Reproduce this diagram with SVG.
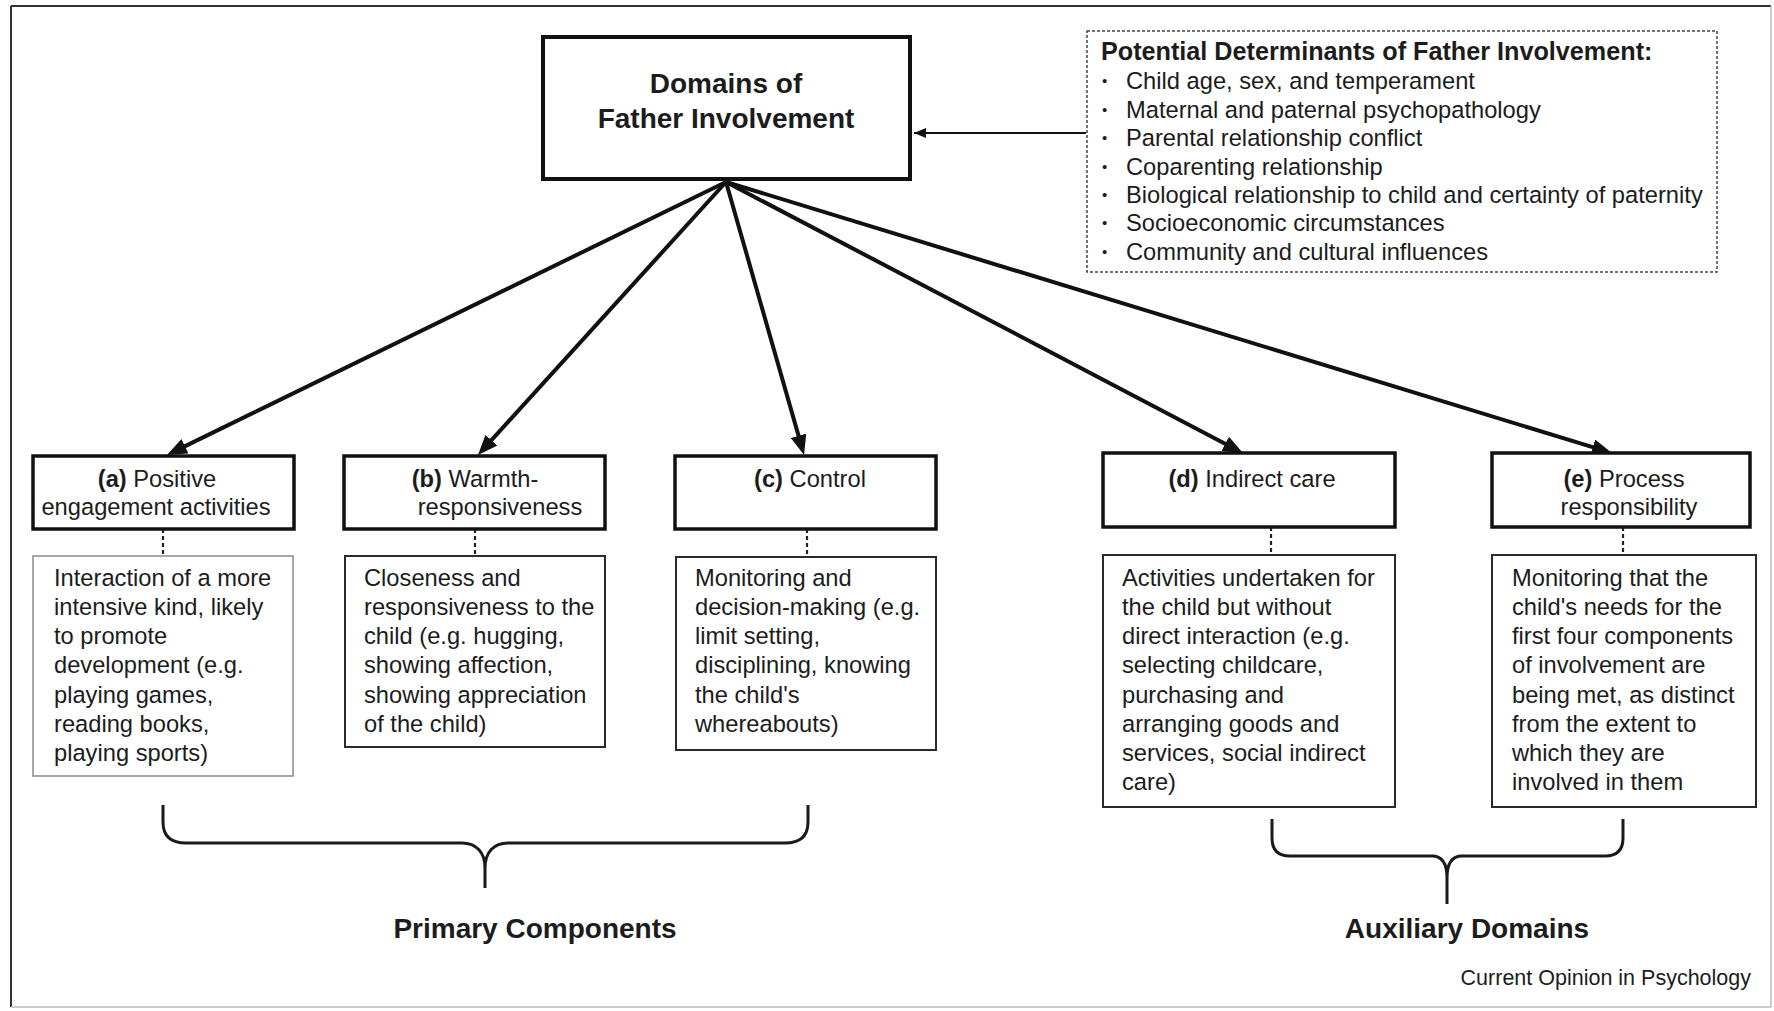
<svg xmlns="http://www.w3.org/2000/svg" width="1774" height="1011" viewBox="0 0 1774 1011">
<defs>
<style>
text{font-family:"Liberation Sans",Arial,Helvetica,sans-serif;fill:#1c1c1c;}
.t24{font-size:23.7px;}
.b{font-weight:bold;}
.title{font-size:28px;font-weight:bold;}
.hdr{fill:#fff;stroke:#111;stroke-width:3.5;}
.desc{fill:#fff;stroke:#2a2a2a;stroke-width:2;}
.descl{fill:#fff;stroke:#8a8a8a;stroke-width:1.5;}
.dash{stroke:#222;stroke-width:2.2;stroke-dasharray:4 3;fill:none;}
.arrow{stroke:#111;stroke-width:4;fill:none;marker-end:url(#ah);}
.brace{stroke:#1a1a1a;stroke-width:3;fill:none;stroke-linejoin:round;}
.bul{font-size:15px;}
</style>
<marker id="ah" viewBox="0 0 20 16" refX="10" refY="8" markerWidth="20" markerHeight="16" markerUnits="userSpaceOnUse" orient="auto">
<path d="M0,0 L20,8 L0,16 z" fill="#111"/>
</marker>
<marker id="ahs" viewBox="0 0 12 10" refX="12" refY="5" markerWidth="12" markerHeight="10" markerUnits="userSpaceOnUse" orient="auto">
<path d="M0,0 L12,5 L0,10 z" fill="#111"/>
</marker>
</defs>
<rect x="0" y="0" width="1774" height="1011" fill="#fff"/>
<g id="frame">
<line x1="11" y1="6" x2="1771" y2="6" stroke="#333" stroke-width="2"/>
<line x1="11" y1="6" x2="11" y2="1007" stroke="#333" stroke-width="2"/>
<line x1="1771" y1="6" x2="1771" y2="1007" stroke="#bbb" stroke-width="1.5"/>
<line x1="11" y1="1007" x2="1771" y2="1007" stroke="#bbb" stroke-width="1.5"/>
</g>

<g id="connectors">
<line class="arrow" x1="726" y1="182" x2="176.0" y2="450.6"/>
<line class="arrow" x1="726" y1="182" x2="484.7" y2="447.6"/>
<line class="arrow" x1="726" y1="182" x2="801.3" y2="445.4"/>
<line class="arrow" x1="726" y1="182" x2="1234.1" y2="448.4"/>
<line class="arrow" x1="726" y1="182" x2="1602.4" y2="450.1"/>
<line x1="1086" y1="133" x2="914" y2="133" stroke="#111" stroke-width="2" marker-end="url(#ahs)"/>
<line class="dash" x1="163" y1="529" x2="163" y2="555"/>
<line class="dash" x1="475" y1="529" x2="475" y2="555"/>
<line class="dash" x1="807" y1="529" x2="807" y2="557"/>
<line class="dash" x1="1271" y1="527" x2="1271" y2="555"/>
<line class="dash" x1="1623" y1="527" x2="1623" y2="555"/>
</g>

<g id="main">
<rect x="543" y="37" width="367" height="142" fill="#fff" stroke="#111" stroke-width="4"/>
<text class="title" x="726" y="93" text-anchor="middle">Domains of</text>
<text class="title" x="726" y="128" text-anchor="middle">Father Involvement</text>
</g>

<g id="determinants">
<rect x="1087" y="31" width="630" height="241" fill="#fff" stroke="#444" stroke-width="1.5" stroke-dasharray="3 2"/>
<text class="b" x="1101" y="60" font-size="25.2">Potential Determinants of Father Involvement:</text>
<g class="bul">
<text x="1102" y="86">•</text>
<text x="1102" y="115">•</text>
<text x="1102" y="143">•</text>
<text x="1102" y="172">•</text>
<text x="1102" y="200">•</text>
<text x="1102" y="228">•</text>
<text x="1102" y="257">•</text>
</g>
<g class="t24">
<text x="1126" y="89">Child age, sex, and temperament</text>
<text x="1126" y="118">Maternal and paternal psychopathology</text>
<text x="1126" y="146">Parental relationship conflict</text>
<text x="1126" y="175">Coparenting relationship</text>
<text x="1126" y="203">Biological relationship to child and certainty of paternity</text>
<text x="1126" y="231">Socioeconomic circumstances</text>
<text x="1126" y="260">Community and cultural influences</text>
</g>
</g>

<g id="node-a">
<rect class="hdr" x="33" y="456" width="261" height="73"/>
<text class="t24" x="157" y="487" text-anchor="middle"><tspan class="b">(a)</tspan> Positive</text>
<text class="t24" x="156" y="515" text-anchor="middle">engagement activities</text>
<rect class="descl" x="33" y="556" width="260" height="220"/>
<g class="t24">
<text x="54" y="586">Interaction of a more</text>
<text x="54" y="615">intensive kind, likely</text>
<text x="54" y="644">to promote</text>
<text x="54" y="673">development (e.g.</text>
<text x="54" y="703">playing games,</text>
<text x="54" y="732">reading books,</text>
<text x="54" y="761">playing sports)</text>
</g>
</g>

<g id="node-b">
<rect class="hdr" x="344" y="456" width="261" height="73"/>
<text class="t24" x="475" y="487" text-anchor="middle"><tspan class="b">(b)</tspan> Warmth-</text>
<text class="t24" x="500" y="515" text-anchor="middle">responsiveness</text>
<rect class="desc" x="345" y="556" width="260" height="191"/>
<g class="t24">
<text x="364" y="586">Closeness and</text>
<text x="364" y="615">responsiveness to the</text>
<text x="364" y="644">child (e.g. hugging,</text>
<text x="364" y="673">showing affection,</text>
<text x="364" y="703">showing appreciation</text>
<text x="364" y="732">of the child)</text>
</g>
</g>

<g id="node-c">
<rect class="hdr" x="675" y="456" width="261" height="73"/>
<text class="t24" x="810" y="487" text-anchor="middle"><tspan class="b">(c)</tspan> Control</text>
<rect class="desc" x="676" y="557" width="260" height="193"/>
<g class="t24">
<text x="695" y="586">Monitoring and</text>
<text x="695" y="615">decision-making (e.g.</text>
<text x="695" y="644">limit setting,</text>
<text x="695" y="673">disciplining, knowing</text>
<text x="695" y="703">the child's</text>
<text x="695" y="732">whereabouts)</text>
</g>
</g>

<g id="node-d">
<rect class="hdr" x="1103" y="453" width="292" height="74"/>
<text class="t24" x="1252" y="487" text-anchor="middle"><tspan class="b">(d)</tspan> Indirect care</text>
<rect class="desc" x="1103" y="555" width="292" height="252"/>
<g class="t24">
<text x="1122" y="586">Activities undertaken for</text>
<text x="1122" y="615">the child but without</text>
<text x="1122" y="644">direct interaction (e.g.</text>
<text x="1122" y="673">selecting childcare,</text>
<text x="1122" y="703">purchasing and</text>
<text x="1122" y="732">arranging goods and</text>
<text x="1122" y="761">services, social indirect</text>
<text x="1122" y="790">care)</text>
</g>
</g>

<g id="node-e">
<rect class="hdr" x="1492" y="453" width="258" height="74"/>
<text class="t24" x="1624" y="487" text-anchor="middle"><tspan class="b">(e)</tspan> Process</text>
<text class="t24" x="1629" y="515" text-anchor="middle">responsibility</text>
<rect class="desc" x="1492" y="555" width="264" height="252"/>
<g class="t24">
<text x="1512" y="586">Monitoring that the</text>
<text x="1512" y="615">child's needs for the</text>
<text x="1512" y="644">first four components</text>
<text x="1512" y="673">of involvement are</text>
<text x="1512" y="703">being met, as distinct</text>
<text x="1512" y="732">from the extent to</text>
<text x="1512" y="761">which they are</text>
<text x="1512" y="790">involved in them</text>
</g>
</g>

<g id="primary-brace">
<path class="brace" d="M163,805 L163,822 C163,835 170,843 186,843 L462,843 C476,843 485,852 485,868 L485,888 M485,868 C485,852 494,843 508,843 L785,843 C801,843 808,835 808,822 L808,805"/>
<text class="title" x="535" y="938" text-anchor="middle">Primary Components</text>
</g>

<g id="auxiliary-brace">
<path class="brace" d="M1272,819 L1272,838 C1272,850 1278,856 1290,856 L1432,856 C1442,856 1447,864 1447,878 L1447,904 M1447,878 C1447,864 1452,856 1462,856 L1605,856 C1617,856 1623,850 1623,838 L1623,819"/>
<text class="title" x="1467" y="938" text-anchor="middle">Auxiliary Domains</text>
</g>

<text x="1751" y="985" text-anchor="end" font-size="21.5">Current Opinion in Psychology</text>
</svg>
